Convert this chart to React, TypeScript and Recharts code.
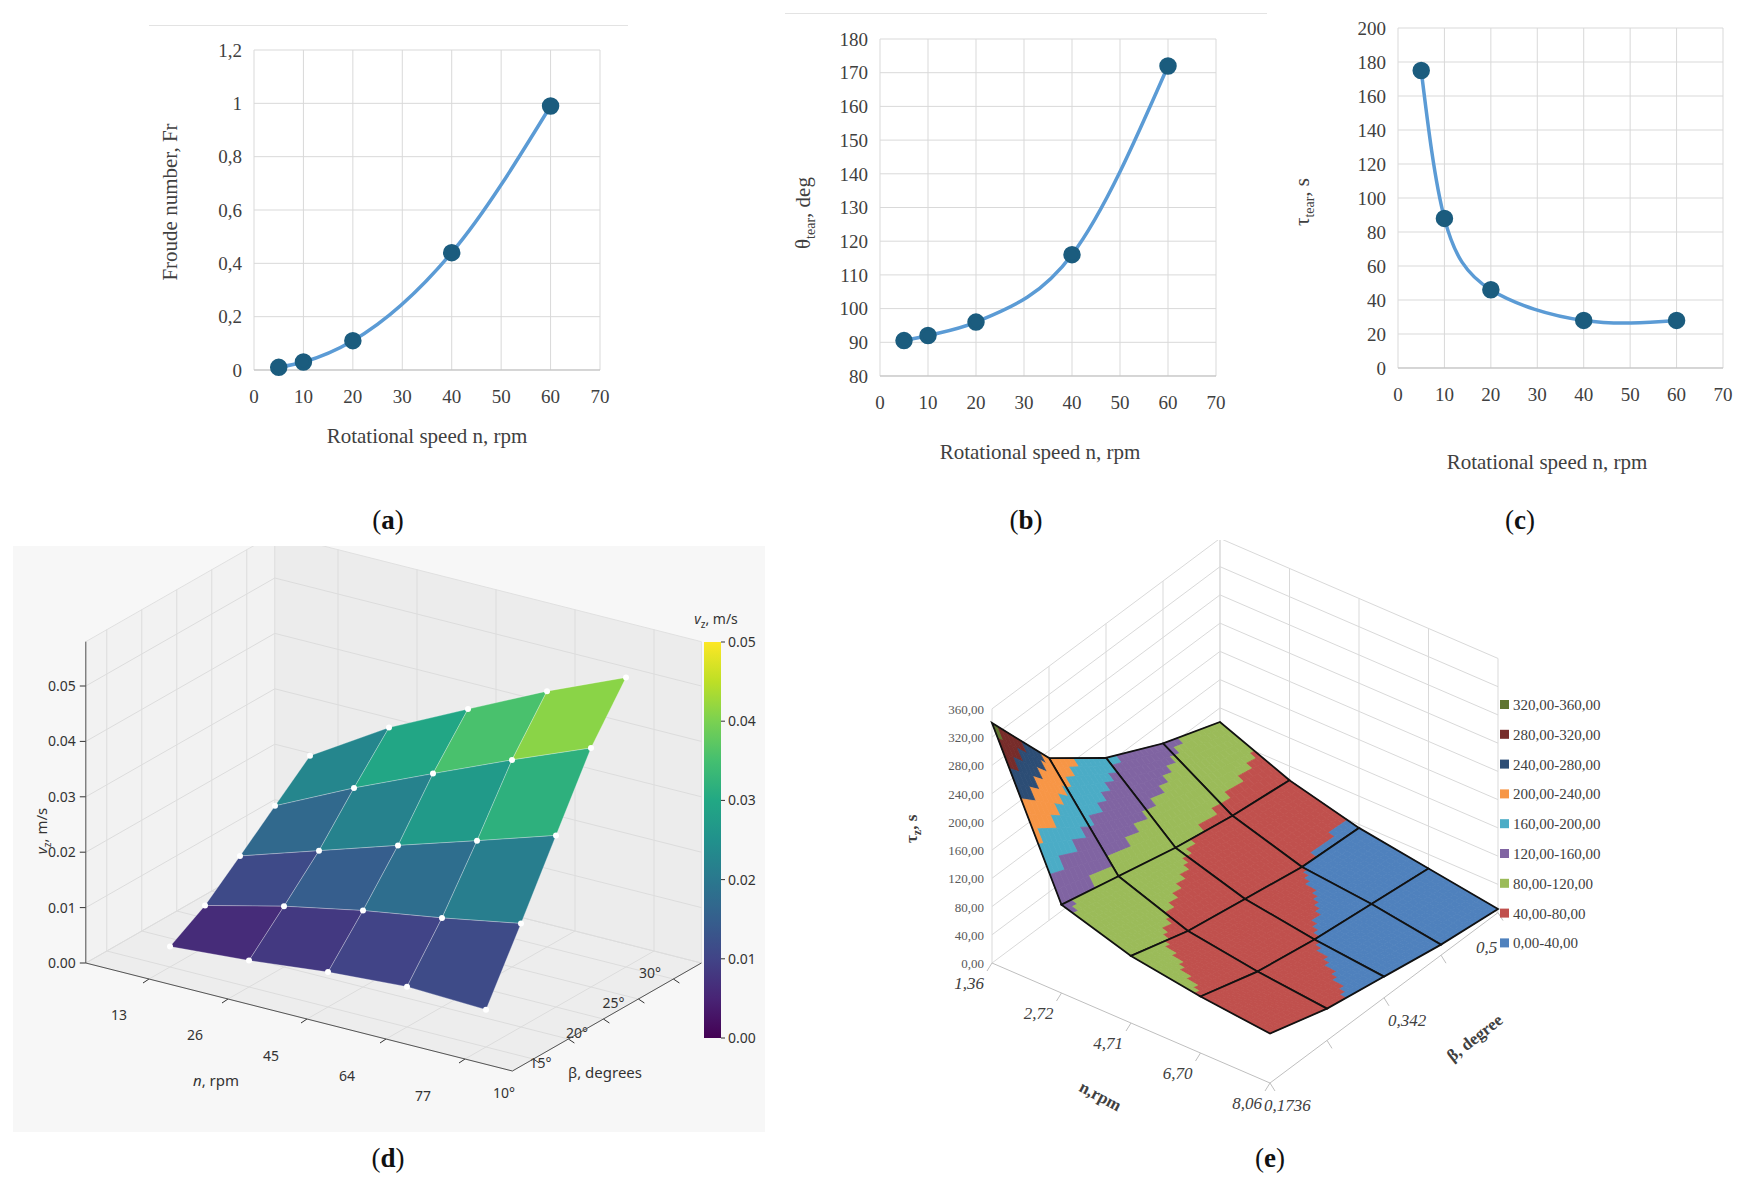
import React from 'react';
import {
  LineChart, Line, XAxis, YAxis, CartesianGrid,
  ScatterChart, Scatter,
} from 'recharts';

// ---- top charts data ----
const speeds = [5, 10, 20, 40, 60];
const froude = [0.01, 0.03, 0.11, 0.44, 0.99];
const thetaTear = [90.5, 92, 96, 116, 172];
const tauTear = [175, 88, 46, 28, 28];

// ---- panel (d) data: v_z rows by beta, columns by n ----
const dN = [13, 26, 45, 64, 77];
const dBeta = [10, 15, 20, 25, 30];
const dV = [
  [0.0034, 0.0044, 0.0058, 0.0067, 0.0062],
  [0.0069, 0.0101, 0.0127, 0.0148, 0.0172],
  [0.0118, 0.0160, 0.0202, 0.0243, 0.0285],
  [0.0168, 0.0231, 0.0288, 0.0344, 0.0397],
  [0.0218, 0.0298, 0.0362, 0.0425, 0.0481],
];
const dZTicks = [0, 0.01, 0.02, 0.03, 0.04, 0.05];

// ---- panel (e) data: tau_z rows by n, columns by beta ----
const eN = ['1,36', '2,72', '4,71', '6,70', '8,06'];
const eBeta = ['0,1736', '', '0,342', '', '0,5'];
const eTau = [
  [340, 230, 170, 130, 100],
  [125, 105, 85, 70, 60],
  [95, 70, 55, 40, 35],
  [80, 55, 40, 30, 20],
  [70, 45, 30, 15, 5],
];
const eBands = ['0,00-40,00', '40,00-80,00', '80,00-120,00', '120,00-160,00', '160,00-200,00',
  '200,00-240,00', '240,00-280,00', '280,00-320,00', '320,00-360,00'];
const eBandColors = ['#4f81bd', '#c0504d', '#9bbb59', '#8064a2', '#4bacc6',
  '#f79646', '#2c4d75', '#772c2a', '#5f7530'];
const eZTicks = [0, 40, 80, 120, 160, 200, 240, 280, 320, 360];

const SERIF = '"Liberation Serif", "DejaVu Serif", serif';
const SANS = '"Noto Sans", "Open Sans", sans-serif';
const LINE = '#5b9bd5';
const DOT = '#1b5c7e';

const comma = (v: number) => String(v).replace('.', ',');

function ExcelLine({ left, top, width, height, margin, values, domain, ticks, fmt, type }: any) {
  const data = speeds.map((s, i) => ({ n: s, v: values[i] }));
  return (
    <div style={{ position: 'absolute', left, top }}>
      <LineChart width={width} height={height} data={data} margin={margin}>
        <CartesianGrid stroke="#d9d9d9" />
        <XAxis dataKey="n" type="number" domain={[0, 70]} ticks={[0, 10, 20, 30, 40, 50, 60, 70]}
          tickLine={false} axisLine={{ stroke: '#bfbfbf' }} height={40} tickMargin={14}
          tick={{ fontFamily: SERIF, fontSize: 19, fill: '#404040' }} />
        <YAxis type="number" domain={domain} ticks={ticks} tickFormatter={fmt} width={44}
          tickLine={false} axisLine={false} tickMargin={6}
          tick={{ fontFamily: SERIF, fontSize: 19, fill: '#404040' }} />
        <Line dataKey="v" type={type} stroke={LINE} strokeWidth={3.5} isAnimationActive={false}
          dot={{ r: 7, fill: DOT, stroke: DOT }} />
      </LineChart>
    </div>
  );
}

// ---- viridis ----
const VIR = ['#440154', '#482475', '#414487', '#355f8d', '#2a788e', '#21918c', '#22a884', '#44bf70', '#7ad151', '#bddf26', '#fde725'];
function hex(c: string) { return [1, 3, 5].map(k => parseInt(c.slice(k, k + 2), 16)); }
function viridis(t: number) {
  const x = Math.max(0, Math.min(1, t)) * 10;
  const k = Math.min(9, Math.floor(x));
  const f = x - k;
  const a = hex(VIR[k]), b = hex(VIR[k + 1]);
  return `rgb(${a.map((v, q) => Math.round(v + (b[q] - v) * f)).join(',')})`;
}

// ---- panel (d) projection (panel-local px) ----
const DW = 752, DH = 586;
const dO = { x: 157, y: 421 }, dEn = { x: 79, y: 20 }, dEb = { x: 35, y: -20 }, dEz = 6020, dEzFrame = 5540;
const pd = (i: number, j: number, v: number, ez = dEz) => ({ x: dO.x + i * dEn.x + j * dEb.x, y: dO.y + i * dEn.y + j * dEb.y - v * ez });

const dCells: any[] = [];
for (let j = 3; j >= 0; j--) for (let i = 0; i < 4; i++) {
  const c = [[i, j], [i + 1, j], [i + 1, j + 1], [i, j + 1]].map(([a, b]) => pd(a, b, dV[b][a]));
  const avg = (dV[j][i] + dV[j][i + 1] + dV[j + 1][i] + dV[j + 1][i + 1]) / 4;
  dCells.push({ x: c[0].x, y: c[0].y, pts: c, fill: viridis(avg / 0.05) });
}
const dDots: any[] = [];
dBeta.forEach((_, j) => dN.forEach((_, i) => dDots.push(pd(i, j, dV[j][i]))));

const polyShape = (p: any) => {
  const { cx, cy, payload } = p;
  const pts = payload.pts.map((q: any) => `${cx + q.x - payload.x},${cy + q.y - payload.y}`).join(' ');
  return <polygon points={pts} fill={payload.fill} stroke="#ffffff" strokeOpacity={0.35} strokeWidth={0.8} />;
};

const lerp = (a: number[], b: number[], t: number) => [a[0] + (b[0] - a[0]) * t, a[1] + (b[1] - a[1]) * t];

function DFrame(p: any) {
  const ox = p.cx, oy = p.cy;
  const P = (i: number, j: number, z: number) => { const q = pd(i, j, z, dEzFrame); return [q.x + ox, q.y + oy]; };
  const ilo = -0.8, ihi = 4.6, jlo = -0.6, jhi = 4.8, zt = 0.058;
  const poly = (a: number[][]) => a.map(q => q.join(',')).join(' ');
  const els: any[] = [];
  els.push(<polygon key="fl" points={poly([P(ilo, jlo, 0), P(ihi, jlo, 0), P(ihi, jhi, 0), P(ilo, jhi, 0)])} fill="#ededed" stroke="#e0e0e0" />);
  els.push(<polygon key="lw" points={poly([P(ilo, jlo, 0), P(ilo, jhi, 0), P(ilo, jhi, zt), P(ilo, jlo, zt)])} fill="#f2f2f2" stroke="#e0e0e0" />);
  els.push(<polygon key="bw" points={poly([P(ilo, jhi, 0), P(ihi, jhi, 0), P(ihi, jhi, zt), P(ilo, jhi, zt)])} fill="#ececec" stroke="#e0e0e0" />);
  dZTicks.forEach((z, k) => {
    const a = P(ilo, jlo, z), b = P(ilo, jhi, z), c = P(ihi, jhi, z);
    els.push(<polyline key={'zg' + k} points={poly([a, b, c])} fill="none" stroke="#dcdcdc" />);
    els.push(<line key={'zt' + k} x1={a[0] - 6} y1={a[1]} x2={a[0]} y2={a[1]} stroke="#333" />);
    els.push(<text key={'zl' + k} x={a[0] - 10} y={a[1] + 5} textAnchor="end" fontSize={14} fontFamily={SANS} fill="#333">{z.toFixed(2)}</text>);
  });
  const nL0 = [ox + 106, oy + 474], nL1 = [ox + 410, oy + 555];
  dN.forEach((n, i) => {
    const a = P(i, jlo, 0), b = P(i, jhi, 0), c = P(i, jhi, zt);
    els.push(<polyline key={'ng' + i} points={poly([a, b, c])} fill="none" stroke="#dcdcdc" />);
    els.push(<line key={'nk' + i} x1={a[0]} y1={a[1]} x2={a[0] - 6} y2={a[1] + 4} stroke="#333" />);
    const q = lerp(nL0, nL1, i / 4);
    els.push(<text key={'nl' + i} x={q[0]} y={q[1]} textAnchor="middle" fontSize={14} fontFamily={SANS} fill="#333">{n}</text>);
  });
  const bL0 = [ox + 491, oy + 552], bL1 = [ox + 637, oy + 432];
  dBeta.forEach((b, j) => {
    const a = P(ihi, j, 0), q = P(ilo, j, 0), c = P(ilo, j, zt);
    els.push(<polyline key={'bg' + j} points={poly([a, q, c])} fill="none" stroke="#dcdcdc" />);
    els.push(<line key={'bk' + j} x1={a[0]} y1={a[1]} x2={a[0] + 6} y2={a[1] + 4} stroke="#333" />);
    const t = lerp(bL0, bL1, j / 4);
    els.push(<text key={'bl' + j} x={t[0]} y={t[1]} textAnchor="middle" fontSize={14} fontFamily={SANS} fill="#333">{b}°</text>);
  });
  const z0 = P(ilo, jlo, 0), z1 = P(ilo, jlo, zt);
  els.push(<line key="zax" x1={z0[0]} y1={z0[1]} x2={z1[0]} y2={z1[1]} stroke="#555" />);
  els.push(<polyline key="nax" points={poly([P(ilo, jlo, 0), P(ihi, jlo, 0), P(ihi, jhi, 0)])} fill="none" stroke="#555" />);
  els.push(<text key="nt" x={ox + 203} y={oy + 540} textAnchor="middle" fontSize={15} fontFamily={SANS} fill="#333"><tspan fontStyle="italic">n</tspan>, rpm</text>);
  els.push(<text key="bt" x={ox + 592} y={oy + 532} textAnchor="middle" fontSize={15} fontFamily={SANS} fill="#333">β, degrees</text>);
  els.push(<text key="zti" transform={`translate(${ox + 34},${oy + 285}) rotate(-90)`} textAnchor="middle" fontSize={15} fontFamily={SANS} fill="#333"><tspan fontStyle="italic">v</tspan><tspan fontSize={10} dy={4}>z</tspan><tspan dy={-4}>, m/s</tspan></text>);
  // colorbar
  const cbx = ox + 691, cby = oy + 96, cbh = 396;
  els.push(<defs key="gd"><linearGradient id="vir" x1="0" y1="1" x2="0" y2="0">{VIR.map((c, k) => <stop key={k} offset={k / 10} stopColor={c} />)}</linearGradient></defs>);
  els.push(<rect key="cb" x={cbx} y={cby} width={17} height={cbh} fill="url(#vir)" />);
  dZTicks.forEach((z, k) => {
    const y = cby + cbh - (z / 0.05) * cbh;
    els.push(<line key={'ct' + k} x1={cbx + 17} y1={y} x2={cbx + 21} y2={y} stroke="#333" />);
    els.push(<text key={'cl' + k} x={cbx + 24} y={y + 5} fontSize={14} fontFamily={SANS} fill="#333">{z.toFixed(2)}</text>);
  });
  els.push(<text key="cbt" x={cbx + 12} y={cby - 18} textAnchor="middle" fontSize={14} fontFamily={SANS} fill="#333"><tspan fontStyle="italic">v</tspan><tspan fontSize={10} dy={4}>z</tspan><tspan dy={-4}>, m/s</tspan></text>);
  return <g>{els}</g>;
}

// ---- panel (e) projection ----
const EW = 869, EH = 600;
const eO = { x: 112, y: 423 }, eEn = { x: 69.5, y: 30 }, eEb = { x: 57, y: -42.6 }, eEz = 0.706;
const pe = (i: number, j: number, v: number) => ({ x: eO.x + i * eEn.x + j * eEb.x, y: eO.y + i * eEn.y + j * eEb.y - v * eEz });
const bil = (u: number, w: number) => {
  const i = Math.min(3, Math.floor(u)), j = Math.min(3, Math.floor(w));
  const fu = u - i, fw = w - j;
  return eTau[i][j] * (1 - fu) * (1 - fw) + eTau[i + 1][j] * fu * (1 - fw) + eTau[i][j + 1] * (1 - fu) * fw + eTau[i + 1][j + 1] * fu * fw;
};
const SUB = 12;
const eCells: any[] = [];
const order: number[][] = [];
for (let i = 0; i < 4; i++) for (let j = 0; j < 4; j++) order.push([i, j]);
order.sort((a, b) => (a[0] - a[1]) - (b[0] - b[1]));
order.forEach(([i, j]) => {
  const c0 = pe(i, j, eTau[i][j]);
  const subs: any[] = [];
  for (let a = 0; a < SUB; a++) for (let b = SUB - 1; b >= 0; b--) {
    const u0 = i + a / SUB, u1 = i + (a + 1) / SUB, w0 = j + b / SUB, w1 = j + (b + 1) / SUB;
    const pts = [[u0, w0], [u1, w0], [u1, w1], [u0, w1]].map(([u, w]) => pe(u, w, bil(u, w)));
    const band = Math.min(8, Math.floor(bil((u0 + u1) / 2, (w0 + w1) / 2) / 40));
    subs.push({ pts, fill: eBandColors[band] });
  }
  const outline = [[i, j], [i + 1, j], [i + 1, j + 1], [i, j + 1]].map(([a, b]) => pe(a, b, eTau[a][b]));
  eCells.push({ x: c0.x, y: c0.y, subs, outline });
});

const eCellShape = (p: any) => {
  const { cx, cy, payload } = p;
  const m = (q: any) => `${cx + q.x - payload.x},${cy + q.y - payload.y}`;
  return (
    <g>
      {payload.subs.map((s: any, k: number) => (
        <polygon key={k} points={s.pts.map(m).join(' ')} fill={s.fill} stroke={s.fill} strokeWidth={0.8} />
      ))}
      <polygon points={payload.outline.map(m).join(' ')} fill="none" stroke="#111" strokeWidth={1.8} />
    </g>
  );
};

function EFrame(p: any) {
  const ox = p.cx, oy = p.cy;
  const P = (i: number, j: number, z: number) => { const q = pe(i, j, z); return [q.x + ox, q.y + oy]; };
  const poly = (a: number[][]) => a.map(q => q.join(',')).join(' ');
  const els: any[] = [];
  eZTicks.forEach((z, k) => {
    els.push(<polyline key={'g' + k} points={poly([P(0, 0, z), P(0, 4, z), P(4, 4, z)])} fill="none" stroke="#d9d9d9" />);
    const a = P(0, 0, z);
    els.push(<text key={'l' + k} x={a[0] - 8} y={a[1] + 5} textAnchor="end" fontSize={13} fontFamily={SERIF} fill="#595959">{z.toFixed(2).replace('.', ',')}</text>);
  });
  for (let j = 0; j <= 4; j++) els.push(<line key={'vj' + j} x1={P(0, j, 0)[0]} y1={P(0, j, 0)[1]} x2={P(0, j, 360)[0]} y2={P(0, j, 360)[1]} stroke="#d9d9d9" />);
  for (let i = 0; i <= 4; i++) els.push(<line key={'vi' + i} x1={P(i, 4, 0)[0]} y1={P(i, 4, 0)[1]} x2={P(i, 4, 360)[0]} y2={P(i, 4, 360)[1]} stroke="#d9d9d9" />);
  els.push(<polyline key="fa" points={poly([P(0, 0, 0), P(4, 0, 0), P(4, 4, 0)])} fill="none" stroke="#bfbfbf" />);
  eN.forEach((n, i) => {
    const a = P(i, 0, 0);
    els.push(<line key={'nt' + i} x1={a[0]} y1={a[1]} x2={a[0] - 5} y2={a[1] + 8} stroke="#bfbfbf" />);
    els.push(<text key={'nl' + i} x={a[0] - 8} y={a[1] + 26} textAnchor="end" fontSize={17} fontFamily={SERIF} fontStyle="italic" fill="#404040">{n}</text>);
  });
  eBeta.forEach((b, j) => {
    const a = P(4, j, 0);
    els.push(<line key={'bt' + j} x1={a[0]} y1={a[1]} x2={a[0] + 5} y2={a[1] + 8} stroke="#bfbfbf" />);
    if (b) els.push(<text key={'bl' + j} x={a[0] + (j === 0 ? -6 : j === 4 ? -22 : 4)} y={a[1] + (j === 4 ? 40 : 28)} textAnchor="start" fontSize={17} fontFamily={SERIF} fontStyle="italic" fill="#404040">{b}</text>);
  });
  const nt = P(2.6, 0, 0), bt = P(4, 2.6, 0);
  els.push(<text key="nti" transform={`translate(${nt[0] - 75},${nt[1] + 60}) rotate(28)`} textAnchor="middle" fontSize={17} fontWeight="bold" fontFamily={SERIF} fill="#404040">n,rpm</text>);
  els.push(<text key="bti" transform={`translate(${bt[0] + 60},${bt[1] + 70}) rotate(-38)`} textAnchor="middle" fontSize={17} fontWeight="bold" fontFamily={SERIF} fill="#404040">β, degree</text>);
  const zt = P(0, 0, 190);
  els.push(<text key="zti" transform={`translate(${zt[0] - 75},${zt[1]}) rotate(-90)`} textAnchor="middle" fontSize={17} fontWeight="bold" fontFamily={SERIF} fill="#404040">τ<tspan fontSize={12} dy={4}>z</tspan><tspan dy={-4}>, s</tspan></text>);
  // legend
  eBands.slice().reverse().forEach((lab, k) => {
    const y = oy + 170 + k * 29.8;
    els.push(<rect key={'lr' + k} x={ox + 620} y={y - 10} width={9} height={9} fill={eBandColors[8 - k]} />);
    els.push(<text key={'lt' + k} x={ox + 633} y={y} fontSize={15} fontFamily={SERIF} fill="#404040">{lab}</text>);
  });
  return <g>{els}</g>;
}

function Panel3D({ left, top, W, H, bg, children }: any) {
  return (
    <div style={{ position: 'absolute', left, top, background: bg }}>
      <ScatterChart width={W} height={H} margin={{ top: 0, right: 0, bottom: 0, left: 0 }}>
        <XAxis type="number" dataKey="x" domain={[0, W]} allowDataOverflow hide />
        <YAxis type="number" dataKey="y" domain={[0, H]} allowDataOverflow reversed hide />
        {children}
      </ScatterChart>
    </div>
  );
}

const lbl = (left: number, top: number, ch: string) => (
  <div style={{ position: 'absolute', left, top, fontFamily: SERIF, fontSize: 27, color: '#111', transform: 'translateX(-50%)' }}>
    (<b>{ch}</b>)
  </div>
);
const txt = (left: number, top: number, content: any, rot = 0) => (
  <div style={{ position: 'absolute', left, top, fontFamily: SERIF, fontSize: 21, color: '#404040', whiteSpace: 'nowrap',
    transform: `translate(-50%,-50%) rotate(${rot}deg)` }}>{content}</div>
);

export default function App() {
  return (
    <div style={{ position: 'absolute', left: 0, top: 0, width: 1749, height: 1185, background: '#fff', overflow: 'hidden' }}>
      <div style={{ position: 'absolute', left: 149, top: 25, width: 479, height: 1, background: '#e3e3e3' }} />
      <div style={{ position: 'absolute', left: 785, top: 13, width: 482, height: 1, background: '#e3e3e3' }} />

      <ExcelLine left={150} top={30} width={470} height={390} margin={{ top: 20, right: 20, bottom: 10, left: 60 }}
        values={froude} domain={[0, 1.2]} ticks={[0, 0.2, 0.4, 0.6, 0.8, 1, 1.2]} fmt={comma} type="monotone" />
      <ExcelLine left={776} top={20} width={460} height={396} margin={{ top: 19, right: 20, bottom: 0, left: 60 }}
        values={thetaTear} domain={[80, 180]} ticks={[80, 90, 100, 110, 120, 130, 140, 150, 160, 170, 180]} fmt={(v: number) => String(v)} type="monotone" />
      <ExcelLine left={1294} top={10} width={449} height={398} margin={{ top: 18, right: 20, bottom: 0, left: 60 }}
        values={tauTear} domain={[0, 200]} ticks={[0, 20, 40, 60, 80, 100, 120, 140, 160, 180, 200]} fmt={(v: number) => String(v)} type="natural" />

      {txt(427, 436, 'Rotational speed n, rpm')}
      {txt(1040, 452, 'Rotational speed n, rpm')}
      {txt(1547, 462, 'Rotational speed n, rpm')}
      {txt(170, 202, 'Froude number, Fr', -90)}
      {txt(805, 213, <span>θ<sub style={{ fontSize: 14 }}>tear</sub>, deg</span>, -90)}
      {txt(1304, 202, <span>τ<sub style={{ fontSize: 14 }}>tear</sub>, s</span>, -90)}
      {lbl(388, 505, 'a')}
      {lbl(1026, 505, 'b')}
      {lbl(1520, 505, 'c')}

      <Panel3D left={13} top={546} W={DW} H={DH} bg="#f7f7f7">
        <Scatter data={[{ x: 0, y: 0 }]} shape={DFrame} isAnimationActive={false} />
        <Scatter data={dCells} shape={polyShape} isAnimationActive={false} />
        <Scatter data={dDots} fill="#fff" shape={(p: any) => <circle cx={p.cx} cy={p.cy} r={3} fill="#fff" />} isAnimationActive={false} />
      </Panel3D>

      <Panel3D left={880} top={540} W={EW} H={EH} bg="#fff">
        <Scatter data={[{ x: 0, y: 0 }]} shape={EFrame} isAnimationActive={false} />
        <Scatter data={eCells} shape={eCellShape} isAnimationActive={false} />
      </Panel3D>

      {lbl(388, 1143, 'd')}
      {lbl(1270, 1143, 'e')}
    </div>
  );
}
